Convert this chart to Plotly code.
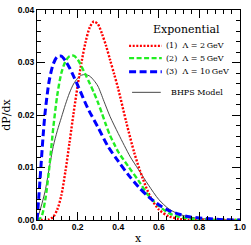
import plotly.graph_objects as go

# ---- data ----
x_red = [0.0, 0.04, 0.06, 0.08, 0.10, 0.12, 0.14, 0.16, 0.18, 0.20, 0.22, 0.24, 0.26, 0.28,
         0.30, 0.32, 0.34, 0.36, 0.38, 0.40, 0.44, 0.48, 0.52, 0.56, 0.60, 0.65, 0.70, 0.75,
         0.80, 0.90, 1.0]
y_red = [0.0, 0.0, 0.0001, 0.0006, 0.0020, 0.0047, 0.0093, 0.0147, 0.0203, 0.0255, 0.0302,
         0.0340, 0.0367, 0.0378, 0.0373, 0.0355, 0.0332, 0.0305, 0.0278, 0.0250, 0.0186,
         0.0127, 0.0080, 0.0043, 0.0020, 0.0007, 0.0002, 0.00005, 0.0, 0.0, 0.0]

x_green = [0.0, 0.02, 0.04, 0.06, 0.08, 0.10, 0.12, 0.14, 0.16, 0.18, 0.20, 0.22, 0.24,
           0.26, 0.28, 0.30, 0.32, 0.34, 0.36, 0.38, 0.40, 0.45, 0.50, 0.55, 0.60, 0.65,
           0.70, 0.75, 0.80, 0.90, 1.0]
y_green = [0.0, 0.0005, 0.0037, 0.0098, 0.0175, 0.0238, 0.0280, 0.0302, 0.0312, 0.0313,
           0.0306, 0.0292, 0.0276, 0.0260, 0.0243, 0.0224, 0.0203, 0.0181, 0.0161, 0.0145,
           0.0130, 0.0102, 0.0075, 0.0046, 0.0027, 0.0013, 0.0006, 0.0003, 0.0001, 0.0, 0.0]

x_blue = [0.0, 0.01, 0.02, 0.03, 0.04, 0.06, 0.08, 0.10, 0.12, 0.14, 0.16, 0.18, 0.20,
          0.25, 0.30, 0.35, 0.40, 0.45, 0.50, 0.55, 0.60, 0.65, 0.70, 0.75, 0.80, 0.90, 1.0]
y_blue = [0.0, 0.0050, 0.0105, 0.0160, 0.0205, 0.0265, 0.0297, 0.0311, 0.0312, 0.0303,
          0.0290, 0.0274, 0.0257, 0.0213, 0.0177, 0.0140, 0.0112, 0.0086, 0.0063, 0.0044,
          0.0029, 0.0018, 0.0011, 0.0006, 0.0004, 0.0001, 0.0]

x_bhps = [0.0, 0.02, 0.04, 0.06, 0.08, 0.10, 0.12, 0.14, 0.16, 0.18, 0.20, 0.22, 0.24,
          0.26, 0.28, 0.30, 0.33, 0.36, 0.40, 0.43, 0.46, 0.50, 0.55, 0.60, 0.65, 0.70,
          0.75, 0.80, 0.90, 1.0]
y_bhps = [0.0, 0.0025, 0.0055, 0.0098, 0.0140, 0.0170, 0.0195, 0.0220, 0.0242, 0.0259,
          0.0270, 0.0276, 0.0277, 0.0274, 0.0266, 0.0255, 0.0226, 0.0197, 0.0165, 0.0142,
          0.0120, 0.0096, 0.0066, 0.0039, 0.0021, 0.0011, 0.0006, 0.0003, 0.00005, 0.0]

legend_title = "Exponential"
legend_labels = ["(1)  \u039b = 2\u2009GeV", "(2)  \u039b = 5\u2009GeV",
                 "(3)  \u039b = 10\u2009GeV", "BHPS Model"]
x_ticks = [0.0, 0.2, 0.4, 0.6, 0.8, 1.0]
y_ticks = [0.00, 0.01, 0.02, 0.03, 0.04]
x_title = "x"
y_title = "dP/dx"

# ---- styles ----
styles = [
    dict(color="#ff0000", width=2.4, dash="2px,1.6px"),
    dict(color="#22ee22", width=2.4, dash="5px,2.5px"),
    dict(color="#0000ff", width=3.0, dash="7px,3.5px"),
    dict(color="#333333", width=0.9, dash="solid"),
]
series = [(x_bhps, y_bhps, 3), (x_red, y_red, 0), (x_green, y_green, 1), (x_blue, y_blue, 2)]

fig = go.Figure()
for xs, ys, si in series:
    st = styles[si]
    fig.add_trace(go.Scatter(x=xs, y=ys, mode="lines", showlegend=False, hoverinfo="skip",
                             line=dict(color=st["color"], width=st["width"], dash=st["dash"],
                                       shape="spline", smoothing=0.8)))

L, R, T, B = 37, 9, 5, 25
W, H = 251, 245
pw, ph = W - L - R, H - T - B

def px2paper(px, py):
    return (px - L) / pw, (H - B - py) / ph

# manual legend
shapes = []
annotations = []
tx, ty = px2paper(188, 25)
annotations.append(dict(x=tx, y=ty, xref="paper", yref="paper", text=legend_title, showarrow=False,
                        xanchor="center", yanchor="middle",
                        font=dict(family="DejaVu Serif", size=11, color="black")))
rows_py = [41.7, 54.3, 68.3, 89.3]
for i, (lab, py) in enumerate(zip(legend_labels, rows_py)):
    st = styles[i]
    x0p = 130 if i < 3 else 133
    x1p = 163 if i < 3 else 162
    tx0 = 165 if i < 3 else 170
    a0, yy = px2paper(x0p, py)
    a1, _ = px2paper(x1p, py)
    shapes.append(dict(type="line", xref="paper", yref="paper", x0=a0, x1=a1, y0=yy, y1=yy,
                       line=dict(color=st["color"], width=st["width"] if i < 3 else 0.9,
                                 dash=st["dash"])))
    t0, _ = px2paper(tx0, py)
    annotations.append(dict(x=t0, y=yy, xref="paper", yref="paper", text=lab, showarrow=False,
                            xanchor="left", yanchor="middle",
                            font=dict(family="DejaVu Serif", size=8, color="black")))

# x-axis title placed as annotation
xt, yt = px2paper(139, 239)
annotations.append(dict(x=xt, y=yt, xref="paper", yref="paper", text=x_title, showarrow=False,
                        xanchor="center", yanchor="middle",
                        font=dict(family="DejaVu Serif", size=11, color="black")))

axis_common = dict(showgrid=False, zeroline=False, showline=True, linecolor="black", linewidth=1,
                   mirror="allticks", ticks="inside", ticklen=8, tickwidth=1, tickcolor="black",
                   tickfont=dict(family="Liberation Sans", size=8.5, color="black", weight="bold"))

fig.update_layout(
    width=W, height=H, margin=dict(l=L, r=R, t=T, b=B),
    paper_bgcolor="white", plot_bgcolor="white",
    xaxis=dict(range=[0, 1], tickvals=x_ticks, tickformat=".1f", ticklabelstandoff=-1,
               minor=dict(dtick=0.04, ticklen=4, tickcolor="black", ticks="inside"),
               **axis_common),
    yaxis=dict(range=[0, 0.04], tickvals=y_ticks, tickformat=".2f",
               minor=dict(dtick=0.002, ticklen=4, tickcolor="black", ticks="inside"),
               title=dict(text=y_title, standoff=4,
                          font=dict(family="DejaVu Serif", size=11, color="black")),
               **axis_common),
    shapes=shapes, annotations=annotations,
)

fig.write_html("out.html", config={"displayModeBar": False},
               post_script="document.body.style.margin='0';document.body.style.padding='0';")
